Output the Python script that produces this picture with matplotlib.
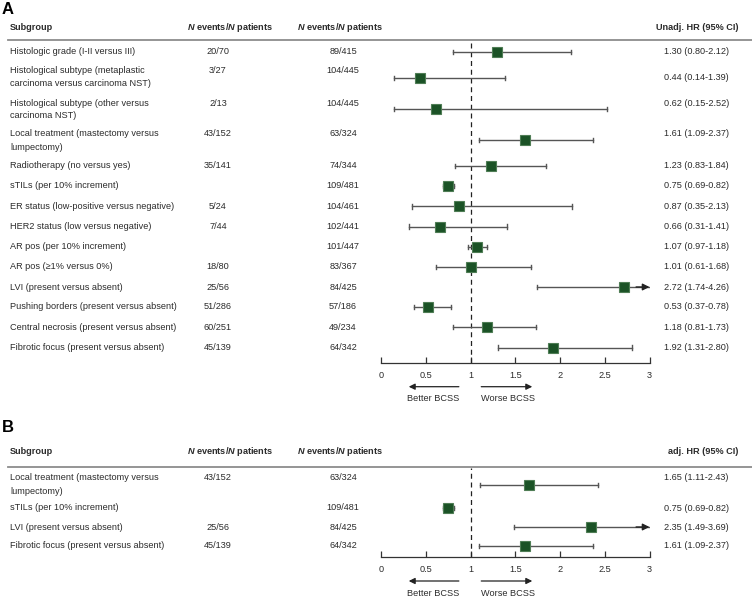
"""Forest plots of BCSS hazard ratios (unadjusted and adjusted)."""
import matplotlib
matplotlib.use("Agg")
import matplotlib.pyplot as plt
from matplotlib import transforms
from matplotlib.lines import Line2D

plt.rcParams["font.family"] = ["Liberation Sans", "DejaVu Sans"]
plt.rcParams["mathtext.fontset"] = "custom"
plt.rcParams["mathtext.rm"] = "Liberation Sans:bold"
plt.rcParams["mathtext.it"] = "Liberation Sans:italic:bold"
plt.rcParams["mathtext.bf"] = "Liberation Sans:bold"

# Panel A: unadjusted
a_groups = [
    "Histologic grade (I-II versus III)",
    "Histological subtype (metaplastic\ncarcinoma versus carcinoma NST)",
    "Histological subtype (other versus\ncarcinoma NST)",
    "Local treatment (mastectomy versus\nlumpectomy)",
    "Radiotherapy (no versus yes)",
    "sTILs (per 10% increment)",
    "ER status (low-positive versus negative)",
    "HER2 status (low versus negative)",
    "AR pos (per 10% increment)",
    "AR pos (\u22651% versus 0%)",
    "LVI (present versus absent)",
    "Pushing borders (present versus absent)",
    "Central necrosis (present versus absent)",
    "Fibrotic focus (present versus absent)",
]
a_n1 = ["20/70", "3/27", "2/13", "43/152", "35/141", "", "5/24", "7/44", "",
        "18/80", "25/56", "51/286", "60/251", "45/139"]
a_n2 = ["89/415", "104/445", "104/445", "63/324", "74/344", "109/481", "104/461",
        "102/441", "101/447", "83/367", "84/425", "57/186", "49/234", "64/342"]
a_hr = [1.30, 0.44, 0.62, 1.61, 1.23, 0.75, 0.87, 0.66, 1.07, 1.01, 2.72, 0.53, 1.18, 1.92]
a_lo = [0.80, 0.14, 0.15, 1.09, 0.83, 0.69, 0.35, 0.31, 0.97, 0.61, 1.74, 0.37, 0.81, 1.31]
a_hi = [2.12, 1.39, 2.52, 2.37, 1.84, 0.82, 2.13, 1.41, 1.18, 1.68, 4.26, 0.78, 1.73, 2.80]

# Panel B: adjusted
b_groups = [
    "Local treatment (mastectomy versus\nlumpectomy)",
    "sTILs (per 10% increment)",
    "LVI (present versus absent)",
    "Fibrotic focus (present versus absent)",
]
b_n1 = ["43/152", "", "25/56", "45/139"]
b_n2 = ["63/324", "109/481", "84/425", "64/342"]
b_hr = [1.65, 0.75, 2.35, 1.61]
b_lo = [1.11, 0.69, 1.49, 1.09]
b_hi = [2.43, 0.82, 3.69, 2.37]

xticks = [0, 0.5, 1, 1.5, 2, 2.5, 3]
xtick_labels = ["0", "0.5", "1", "1.5", "2", "2.5", "3"]

W, H = 752, 599
FS = 6.6
TXT = "#2b2b2b"
SQ_FACE = "#1b5226"
SQ_EDGE = "#4f7d55"
CI_COL = "#555555"

fig = plt.figure(figsize=(W / 100, H / 100), dpi=100)


def fx(px):
    return px / W


def fy(py):
    return 1 - py / H


def panel(letter, hr_title, groups, n1, n2, hr, lo, hi,
          top, header_y, line_y, axis_y, text_y, mark_y, hr_y):
    fig.text(fx(2), fy(top), letter, fontsize=12, weight="bold", va="center", color="black")
    fig.text(fx(10), fy(header_y), "Subgroup", fontsize=FS, weight="bold", va="center", color=TXT)
    fig.text(fx(230), fy(header_y), r"$N$ events/$N$ patients", fontsize=FS, weight="bold",
             va="center", ha="center", color=TXT)
    fig.text(fx(340), fy(header_y), r"$N$ events/$N$ patients", fontsize=FS, weight="bold",
             va="center", ha="center", color=TXT)
    fig.text(fx(738), fy(header_y), hr_title, fontsize=FS, weight="bold",
             va="center", ha="right", color=TXT)
    fig.add_artist(Line2D([fx(8), 1], [fy(line_y)] * 2, color="#8c8c8c", lw=1.3))

    for i, g in enumerate(groups):
        for k, part in enumerate(g.split("\n")):
            fig.text(fx(10), fy(text_y[i] + 13 * k), part, fontsize=FS, va="center", color=TXT)
        fig.text(fx(218), fy(text_y[i]), n1[i], fontsize=FS, va="center", ha="center", color=TXT)
        fig.text(fx(343), fy(text_y[i]), n2[i], fontsize=FS, va="center", ha="center", color=TXT)
        fig.text(fx(664), fy(hr_y[i]), f"{hr[i]:.2f} ({lo[i]:.2f}-{hi[i]:.2f})",
                 fontsize=FS, va="center", color=TXT)

    x0, x1 = 381, 649.5
    ax = fig.add_axes([fx(x0), fy(axis_y), (x1 - x0) / W, (axis_y - line_y - 0.8) / H])
    ax.set_xlim(0, 3)
    ax.set_ylim(axis_y, line_y + 0.8)
    ax.patch.set_visible(False)
    for s in ["top", "right", "left"]:
        ax.spines[s].set_visible(False)
    ax.spines["bottom"].set_color("#333333")
    ax.spines["bottom"].set_linewidth(0.9)
    ax.set_yticks([])
    ax.set_xticks(xticks)
    ax.set_xticklabels(xtick_labels)
    ax.tick_params(axis="x", direction="in", length=4, width=0.9, pad=6,
                   labelsize=FS, labelcolor=TXT, color="#333333")
    ax.axvline(1, color="#222222", lw=0.9, ls=(0, (4, 3)))

    for i in range(len(hr)):
        y = mark_y[i]
        right = min(hi[i], 3)
        ax.plot([lo[i], right], [y, y], color=CI_COL, lw=1.0, zorder=2)
        ax.plot([lo[i], lo[i]], [y - 2.2, y + 2.2], color=CI_COL, lw=1.0, zorder=2)
        if hi[i] > 3:
            ax.annotate("", xy=(3.0, y), xytext=(2.85, y),
                        arrowprops=dict(arrowstyle="-|>", color="#222222", lw=1.0,
                                        mutation_scale=10, shrinkA=0, shrinkB=0))
        else:
            ax.plot([hi[i], hi[i]], [y - 2.2, y + 2.2], color=CI_COL, lw=1.0, zorder=2)
        ax.plot(hr[i], y, marker="s", ms=7.8, mfc=SQ_FACE, mec=SQ_EDGE, mew=0.8, zorder=3)

    tr = transforms.blended_transform_factory(ax.transData, fig.transFigure)
    arrow_y = fy(axis_y + 24)
    ax.annotate("", xy=(0.31, arrow_y), xytext=(0.87, arrow_y), xycoords=tr, textcoords=tr,
                arrowprops=dict(arrowstyle="-|>", color="#222222", lw=0.9,
                                mutation_scale=9, shrinkA=0, shrinkB=0))
    ax.annotate("", xy=(1.69, arrow_y), xytext=(1.12, arrow_y), xycoords=tr, textcoords=tr,
                arrowprops=dict(arrowstyle="-|>", color="#222222", lw=0.9,
                                mutation_scale=9, shrinkA=0, shrinkB=0))
    ax.text(0.58, fy(axis_y + 36), "Better BCSS", transform=tr, fontsize=FS,
            ha="center", va="center", color=TXT)
    ax.text(1.42, fy(axis_y + 36), "Worse BCSS", transform=tr, fontsize=FS,
            ha="center", va="center", color=TXT)
    return ax


# row layout (pixel rows from the top)
a_text_y = [52, 70.5, 103, 134, 166, 186, 206.3, 226.5, 246.7, 266.8, 287, 307, 327, 347.5]
a_mark_y = [52, 78, 109, 140, 166, 186, 206.3, 226.5, 246.7, 266.8, 287, 307, 327, 347.5]
a_hr_y = [52, 78, 103, 134, 166, 186, 206.3, 226.5, 246.7, 266.8, 287, 307, 327, 347.5]

b_text_y = [478, 508, 527, 546]
b_mark_y = [485, 508, 527, 546]
b_hr_y = [478, 508.5, 527, 546]

panel("A", "Unadj. HR (95% CI)", a_groups, a_n1, a_n2, a_hr, a_lo, a_hi,
      top=10, header_y=28, line_y=40, axis_y=362.7,
      text_y=a_text_y, mark_y=a_mark_y, hr_y=a_hr_y)
panel("B", "adj. HR (95% CI)", b_groups, b_n1, b_n2, b_hr, b_lo, b_hi,
      top=428, header_y=452, line_y=467, axis_y=557,
      text_y=b_text_y, mark_y=b_mark_y, hr_y=b_hr_y)

fig.savefig("out.png", dpi=100, facecolor="white")
